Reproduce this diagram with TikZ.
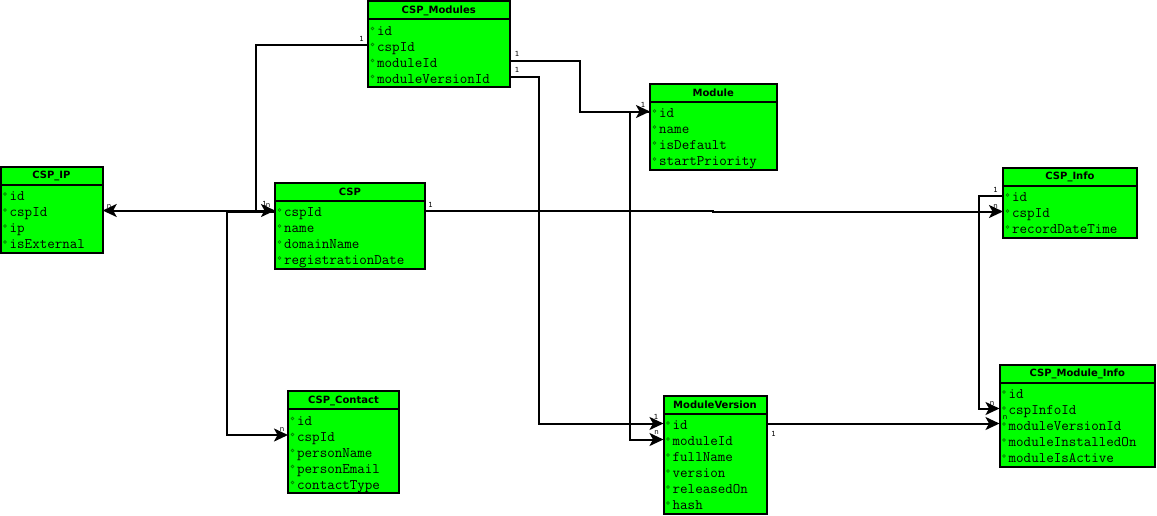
\documentclass[tikz,border=0pt]{standalone}
\usepackage{fontspec}
\newfontfamily\titlefont{DejaVu Sans}
\usetikzlibrary{arrows.meta,fit}

\definecolor{entgreen}{RGB}{0,255,0}
\definecolor{markgreen}{RGB}{0,130,0}

\tikzset{
  tablebox/.style={draw=black, fill=entgreen, line width=2pt},
  headrule/.style={draw=black, line width=2pt},
  tabletitle/.style={font=\titlefont\bfseries\fontsize{10}{12}\selectfont, inner sep=0pt},
  attr/.style={font=\ttfamily\fontsize{14.6}{16}\selectfont, inner sep=0pt, anchor=mid west},
  keymark/.style={draw=markgreen, line width=0.7pt},
  link/.style={draw=black, line width=2pt, line join=miter,
    -{Stealth[length=14pt,width=13pt,inset=3.5pt]}},
  mult/.style={font=\titlefont\fontsize{7}{7}\selectfont, inner sep=0pt}
}

% \erdtable{name}{left}{top}{right}{title}{rows}{attribute list}
\newcommand\erdtable[7]{%
  \pgfmathsetmacro\erdbottom{#3+22+16*#6}
  \draw[tablebox] (#2,#3) rectangle (#4,\erdbottom);
  \node[inner sep=0pt, fit={(#2,#3)(#4,\erdbottom)}] (#1) {};
  \draw[headrule] (#2,#3+18) -- (#4,#3+18);
  \node[tabletitle] (#1-title) at ({(#2+#4)/2},#3+9.5) {#5};
  \foreach \a [count=\i] in {#7} {
    \pgfmathsetmacro\ry{#3+31.5+16*(\i-1)}
    \draw[keymark] (#2+4.5,\ry-4) circle[radius=1.4pt];
    \node[attr] (#1-\i) at (#2+9,\ry+0.8) {\a};
    \coordinate (#1-\i-w) at (#2,\ry-3.5);
    \coordinate (#1-\i-e) at (#4,\ry-3.5);
  }
}

\begin{document}
\begin{tikzpicture}[x=1pt,y=-1pt]
\fill[white] (0,0) rectangle (1157,515);
\useasboundingbox (0,0) rectangle (1157,515);

% tables
\erdtable{cspm}{368}{1}{509.5}{CSP\_Modules}{4}{id,cspId,moduleId,moduleVersionId}
\erdtable{mod}{650}{83.5}{776.5}{Module}{4}{id,name,isDefault,startPriority}
\erdtable{ip}{0.5}{166.5}{102.5}{CSP\_IP}{4}{id,cspId,ip,isExternal}
\erdtable{csp}{275}{182.5}{425}{CSP}{4}{cspId,name,domainName,registrationDate}
\erdtable{info}{1003}{167.5}{1137}{CSP\_Info}{3}{id,cspId,recordDateTime}
\erdtable{contact}{288}{391}{399}{CSP\_Contact}{5}{id,cspId,personName,personEmail,contactType}
\erdtable{mv}{663.5}{395.5}{766.5}{ModuleVersion}{6}{id,moduleId,fullName,version,releasedOn,hash}
\erdtable{cmi}{999.5}{364.5}{1155}{CSP\_Module\_Info}{5}{id,cspInfoId,moduleVersionId,moduleInstalledOn,moduleIsActive}

% routing columns for the connectors
\coordinate (bendA) at (256,0);
\coordinate (bendC) at (227,0);
\coordinate (bendD) at (713,0);
\coordinate (bendE) at (979,0);
\coordinate (bendG) at (580,0);
\coordinate (bendH) at (539,0);
\coordinate (bendI) at (630,0);
\coordinate (cspc) at ([yshift=-1.5pt]csp-1-w);

% relations
\draw[link] (cspm-2-w) -- (cspm-2-w -| bendA) -- (csp-1-w -| bendA) -- (csp-1-w);
\draw[link] (csp-1-w) -- (csp-1-w -| ip.east);
\draw[link] (cspc) -- (cspc -| bendC) |- (contact-2-w);
\draw[link] (csp-1-e) -- (csp-1-e -| bendD) -- (info-2-w -| bendD) -- (info-2-w);
\draw[link] (info-1-w) -- (info-1-w -| bendE) |- (cmi-2-w);
\draw[link] (mv-1-e) -- (mv-1-e -| cmi-3-w);
\draw[link] (cspm-3-e) -- (cspm-3-e -| bendG) |- (mod-1-w);
\draw[link] (cspm-4-e) -- (cspm-4-e -| bendH) |- (mv-1-w);
\draw[link] (mod-1-w) -- (mod-1-w -| bendI) |- (mv-2-w);

% multiplicities
\node[mult] (m1)  at (361.5,38.5) {1};
\node[mult] (m2)  at (517,54) {1};
\node[mult] (m3)  at (517,69.5) {1};
\node[mult] (m4)  at (643,104.5) {1};
\node[mult] (m5)  at (430.5,204.5) {1};
\node[mult] (m6)  at (109,206.5) {n};
\node[mult] (m7)  at (264.5,204) {1};
\node[mult] (m8)  at (268,205.5) {n};
\node[mult] (m9)  at (995.5,207) {n};
\node[mult] (m10) at (995.5,190) {1};
\node[mult] (m11) at (992,403.5) {n};
\node[mult] (m12) at (1005,417.5) {n};
\node[mult] (m13) at (773.5,434) {1};
\node[mult] (m14) at (656,417) {1};
\node[mult] (m15) at (656.5,433) {n};
\node[mult] (m16) at (282,429.5) {n};
\end{tikzpicture}
\end{document}
